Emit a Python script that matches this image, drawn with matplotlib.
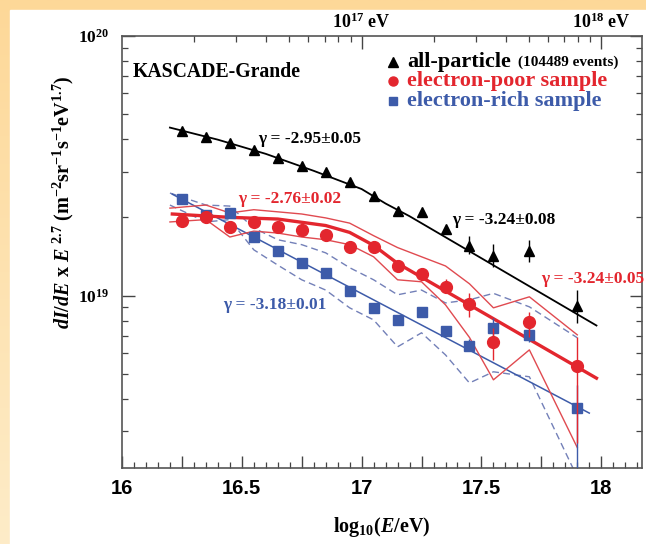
import numpy as np
import matplotlib
matplotlib.use('Agg')
import matplotlib.pyplot as plt
from matplotlib.ticker import MultipleLocator, FixedLocator, NullFormatter, FuncFormatter
from matplotlib.patches import Rectangle

# font setup: Times-like bold everywhere in math
plt.rcParams['mathtext.fontset'] = 'custom'
plt.rcParams['mathtext.rm'] = 'Liberation Serif:bold'
plt.rcParams['mathtext.it'] = 'Liberation Serif:italic:bold'
plt.rcParams['mathtext.bf'] = 'Liberation Serif:bold'
SERIF = 'Liberation Serif'
SANS = 'Liberation Sans'

# ---- data (log10 E/eV, dI/dE x E^2.7) ----
logE = [16.25, 16.35, 16.45, 16.55, 16.65, 16.75, 16.85, 16.95,
        17.05, 17.15, 17.25, 17.35, 17.45, 17.55, 17.70, 17.90]

all_flux = [4.31e19, 4.07e19, 3.88e19, 3.63e19, 3.39e19, 3.16e19, 3.00e19, 2.74e19,
            2.42e19, 2.12e19, 2.09e19, 1.80e19, 1.55e19, 1.42e19, 1.49e19, 9.08e18]
all_lo = [4.31e19, 4.07e19, 3.88e19, 3.63e19, 3.39e19, 3.16e19, 3.00e19, 2.74e19,
          2.42e19, 2.12e19, 2.09e19, 1.74e19, 1.45e19, 1.29e19, 1.35e19, 7.85e18]
all_hi = [4.31e19, 4.07e19, 3.88e19, 3.63e19, 3.39e19, 3.16e19, 3.00e19, 2.74e19,
          2.42e19, 2.12e19, 2.09e19, 1.86e19, 1.70e19, 1.58e19, 1.64e19, 1.05e19]

poor_flux = [1.94e19, 2.01e19, 1.83e19, 1.92e19, 1.83e19, 1.78e19, 1.71e19, 1.54e19,
             1.54e19, 1.30e19, 1.21e19, 1.08e19, 9.27e18, 6.65e18, 7.94e18, 5.38e18]
poor_lo = [1.94e19, 2.01e19, 1.83e19, 1.92e19, 1.83e19, 1.78e19, 1.71e19, 1.54e19,
           1.54e19, 1.30e19, 1.18e19, 1.02e19, 8.28e18, 5.66e18, 6.94e18, 2.71e18]
poor_hi = [1.94e19, 2.01e19, 1.83e19, 1.92e19, 1.83e19, 1.78e19, 1.71e19, 1.54e19,
           1.54e19, 1.30e19, 1.24e19, 1.16e19, 1.02e19, 7.51e18, 8.66e18, 6.94e18]

rich_flux = [2.35e19, 2.05e19, 2.07e19, 1.68e19, 1.48e19, 1.34e19, 1.22e19, 1.04e19,
             8.97e18, 8.02e18, 8.68e18, 7.33e18, 6.41e18, 7.53e18, 7.06e18, 3.69e18]
rich_lo = [2.35e19, 2.05e19, 2.07e19, 1.68e19, 1.48e19, 1.34e19, 1.22e19, 1.04e19,
           8.97e18, 8.02e18, 8.68e18, 7.33e18, 6.10e18, 6.90e18, 6.60e18, 2.00e18]
rich_hi = [2.35e19, 2.05e19, 2.07e19, 1.68e19, 1.48e19, 1.34e19, 1.22e19, 1.04e19,
           8.97e18, 8.02e18, 8.68e18, 7.33e18, 6.80e18, 8.20e18, 7.50e18, 4.54e18]

# fitted spectra
fit_all_x = [16.2, 16.4, 16.6, 16.8, 17.0, 17.1, 17.2, 17.98]
fit_all_y = [4.43e19, 3.98e19, 3.51e19, 3.02e19, 2.57e19, 2.26e19, 2.02e19, 7.67e18]
fit_poor_x = [16.21, 16.45, 16.65, 16.85, 16.95, 17.05, 17.15, 17.98]
fit_poor_y = [2.06e19, 2.00e19, 1.97e19, 1.86e19, 1.75e19, 1.56e19, 1.33e19, 4.81e18]
fit_rich_x = [16.21, 17.95]
fit_rich_y = [2.455e19, 3.53e18]

# systematic bands
band_x = [16.2, 16.35, 16.45, 16.55, 16.65, 16.75, 16.85, 16.95,
          17.05, 17.15, 17.25, 17.35, 17.45, 17.55, 17.70, 17.90]
poor_band_hi = [2.17e19, 2.23e19, 2.08e19, 2.14e19, 2.10e19, 2.06e19, 1.99e19, 1.90e19,
                1.70e19, 1.53e19, 1.41e19, 1.30e19, 1.11e19, 8.97e18, 9.89e18, 7.06e18]
poor_band_lo = [1.92e19, 1.96e19, 1.68e19, 1.77e19, 1.74e19, 1.68e19, 1.64e19, 1.57e19,
                1.41e19, 1.15e19, 1.13e19, 9.21e18, 6.90e18, 4.74e18, 6.18e18, 2.60e18]
rich_band_hi = [2.48e19, 2.23e19, 2.21e19, 1.82e19, 1.64e19, 1.57e19, 1.46e19, 1.28e19,
                1.15e19, 1.007e19, 1.05e19, 9.37e18, 9.63e18, 1.02e19, 9.05e18, 6.88e18]
rich_band_lo = [2.23e19, 1.92e19, 1.96e19, 1.50e19, 1.31e19, 1.15e19, 1.05e19, 8.97e18,
                8.06e18, 6.35e18, 7.19e18, 5.91e18, 4.61e18, 5.09e18, 4.87e18, 2.00e18]

RED = '#E3262E'
RED_THIN = '#E04A50'
BLUE = '#3D5BA9'
BLUE_DASH = '#7380B8'

fig = plt.figure(figsize=(6.46, 5.44), dpi=100)

# background: orange frame top/left with gradient, white sheet
bg = fig.add_axes([0, 0, 1, 1], zorder=-10)
bg.axis('off')
grad = np.linspace(0, 1, 256).reshape(-1, 1)
top_c = np.array([253, 216, 152]) / 255
bot_c = np.array([254, 236, 200]) / 255
img = top_c + (bot_c - top_c) * grad[:, :, None]
bg.imshow(img, extent=[0, 1, 0, 1], aspect='auto')
bg.add_patch(Rectangle((10 / 646, 0), 1, 1 - 10 / 544, color='white'))
bg.set_xlim(0, 1)
bg.set_ylim(0, 1)

ax = fig.add_axes([122 / 646, 1 - 468 / 544, 520 / 646, (468 - 35.7) / 544])


def err(y, lo, hi):
    y = np.array(y)
    return [y - np.array(lo), np.array(hi) - y]


# electron-rich
ax.plot(band_x, rich_band_hi, '--', color=BLUE_DASH, lw=1.0, dashes=(5, 3))
ax.plot(band_x, rich_band_lo, '--', color=BLUE_DASH, lw=1.0, dashes=(5, 3))
ax.plot(fit_rich_x, fit_rich_y, '-', color=BLUE, lw=1.1)
ax.errorbar(logE, rich_flux, yerr=err(rich_flux, rich_lo, rich_hi), fmt='s', color=BLUE,
            ms=6.5, elinewidth=1.0, capsize=0, zorder=3)

# electron-poor
ax.plot(band_x, poor_band_hi, '-', color=RED_THIN, lw=1.0)
ax.plot(band_x, poor_band_lo, '-', color=RED_THIN, lw=1.0)
ax.plot(fit_poor_x, fit_poor_y, '-', color=RED, lw=2.4)
ax.errorbar(logE, poor_flux, yerr=err(poor_flux, poor_lo, poor_hi), fmt='o', color=RED,
            ms=8.5, elinewidth=1.0, capsize=0, zorder=4)

# all-particle
ax.plot(fit_all_x, fit_all_y, '-', color='black', lw=1.3)
ax.errorbar(logE, all_flux, yerr=err(all_flux, all_lo, all_hi), fmt='^', color='black',
            ms=7, elinewidth=1.0, capsize=0, zorder=5)

ax.set_yscale('log')
ax.set_xlim(16, 18.17)
ax.set_ylim(2.17e18, 1e20)

ax.xaxis.set_major_locator(MultipleLocator(0.25))
ax.xaxis.set_minor_locator(MultipleLocator(0.05))
ax.xaxis.set_major_formatter(FuncFormatter(
    lambda v, p: ('%g' % v) if abs(v * 2 - round(v * 2)) < 1e-6 else ''))
ax.yaxis.set_major_locator(FixedLocator([1e19, 1e20]))
ax.yaxis.set_major_formatter(FuncFormatter(lambda v, p: r'$10^{%d}$' % round(np.log10(v))))
ax.yaxis.set_minor_locator(FixedLocator([k * 10.0 ** n for n in (18, 19) for k in range(2, 10)]))
ax.yaxis.set_minor_formatter(NullFormatter())

ax.tick_params(which='both', direction='in', right=True, top=False, colors='#444444')
ax.tick_params(which='major', length=9, width=1.0)
ax.tick_params(which='minor', length=4.5, width=0.9)
ax.tick_params(axis='x', labelsize=14.5, pad=8, labelcolor='black')
ax.tick_params(axis='y', labelsize=12.5, pad=9, labelcolor='black')
for lab in ax.get_xticklabels():
    lab.set_fontfamily(SANS)
    lab.set_fontweight('bold')
for s in ax.spines.values():
    s.set_color('#555555')
    s.set_linewidth(1.2)

# top energy axis
top = ax.twiny()
top.set_xlim(ax.get_xlim())
top.xaxis.set_major_locator(FixedLocator([17, 18]))
top.xaxis.set_minor_locator(FixedLocator([n + np.log10(k) for n in (16, 17) for k in range(2, 10)]))
top.set_xticklabels([r'$10^{17}$ eV', r'$10^{18}$ eV'], fontfamily=SERIF, fontweight='bold',
                    fontsize=13)
top.xaxis.set_minor_formatter(NullFormatter())
top.tick_params(which='both', direction='in', colors='#444444', labelcolor='black')
top.tick_params(which='major', length=9, width=1.0, pad=3)
top.tick_params(which='minor', length=4.5, width=0.9)
for s in top.spines.values():
    s.set_visible(False)

# labels
ax.set_xlabel(r'log$_{10}$($E$/eV)', fontsize=14.5, labelpad=12,
              fontfamily=SERIF, fontweight='bold')
ax.set_ylabel(r'$dI/dE$ x $E^{\ 2.7}$ (m$^{-2}$sr$^{-1}$s$^{-1}$eV$^{1.7}$)',
              fontsize=14.5, labelpad=12, fontfamily=SERIF, fontweight='bold')
ax.yaxis.set_label_coords(-0.089, 0.615)

txt = dict(fontfamily=SERIF, fontweight='bold', transform=ax.transAxes)
ax.text(0.02, 0.915, 'KASCADE-Grande', fontsize=14.2, va='center', **txt)

# legend (hand made)
lx = (393 - 122) / 520
ly = [(468 - 62) / 432.3, (468 - 81) / 432.3, (468 - 101) / 432.3]
ax.plot([lx], [ly[0]], '^', color='black', ms=6.5, transform=ax.transAxes, clip_on=False)
ax.plot([lx], [ly[1]], 'o', color=RED, ms=6.5, transform=ax.transAxes, clip_on=False)
ax.plot([lx], [ly[2]], 's', color=BLUE, ms=5.5, transform=ax.transAxes, clip_on=False)
tx = lx + 0.027
t1 = ax.text(tx, ly[0], 'all-particle', fontsize=16, va='center', **txt)
ax.annotate('(104489 events)', xy=(1, 0.5), xycoords=t1, xytext=(5, 0),
            textcoords='offset points', fontsize=11, va='center',
            fontfamily=SERIF, fontweight='bold')
ax.text(tx, ly[1], 'electron-poor sample', fontsize=16, va='center', color=RED, **txt)
ax.text(tx, ly[2], 'electron-rich sample', fontsize=16, va='center', color=BLUE, **txt)

# spectral indices
def px(x, y):
    return ((x - 122) / 520, (468 - y) / 432.3)

ax.text(*px(258, 139), 'γ = -2.95±0.05', fontsize=12.5, va='center', **txt)
ax.text(*px(238, 199), 'γ = -2.76±0.02', fontsize=12.5, va='center', color=RED, **txt)
ax.text(*px(452, 220), 'γ = -3.24±0.08', fontsize=12.5, va='center', **txt)
ax.text(*px(541, 279), 'γ = -3.24±0.05', fontsize=12.5, va='center', color=RED, **txt)
ax.text(*px(223, 305), 'γ = -3.18±0.01', fontsize=12.5, va='center', color=BLUE, **txt)

fig.savefig('out.png', dpi=100)
